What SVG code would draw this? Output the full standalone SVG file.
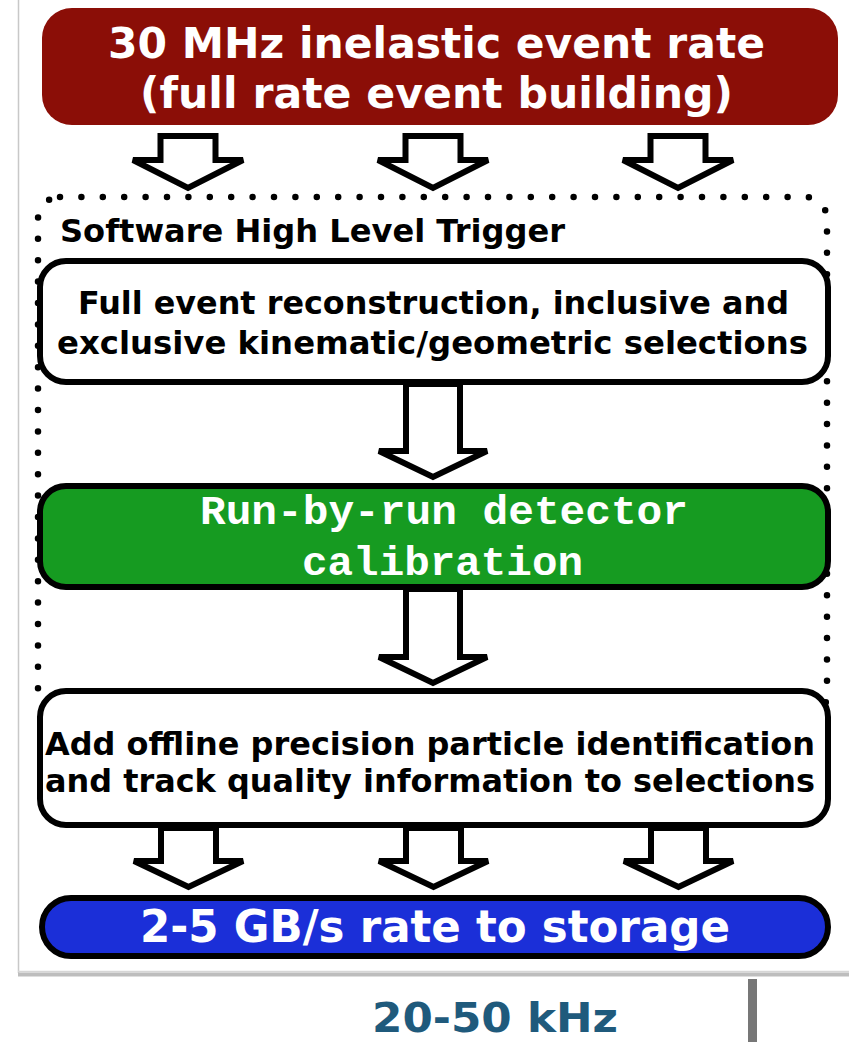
<svg xmlns="http://www.w3.org/2000/svg" width="849" height="1042" viewBox="0 0 849 1042">
<defs>
<style>
.box{stroke:#000;stroke-width:6}
.arrow{fill:#fff;stroke:#000;stroke-width:6;stroke-linejoin:miter}
.sans{font-family:"DejaVu Sans","Verdana",sans-serif;font-weight:bold}
.mono{font-family:"Liberation Mono","Courier New",monospace;font-weight:bold}
.w{fill:#fff}
.k{fill:#000}
</style>
</defs>
<rect x="0" y="0" width="849" height="1042" fill="#fff"/>
<g id="panel">
<line x1="18.5" y1="0" x2="18.5" y2="973" stroke="#c8c8c8" stroke-width="1.5"/>
<line x1="18" y1="971.5" x2="849" y2="971.5" stroke="#d6d6d6" stroke-width="1.5"/>
<line x1="18" y1="974.5" x2="849" y2="974.5" stroke="#bdbdbd" stroke-width="4"/>
</g>
<g id="hlt-group">
<rect x="38" y="197" width="789" height="520" rx="22" fill="none" stroke="#000" stroke-width="6.5" stroke-linecap="round" stroke-dasharray="0 21.4"/>
<text class="sans k" x="60" y="242" font-size="32" textLength="505" lengthAdjust="spacingAndGlyphs">Software High Level Trigger</text>
</g>
<g id="n-input">
<rect x="42" y="8" width="796" height="117" rx="30" fill="#8b0e07"/>
<text class="sans w" x="108" y="58" font-size="42" textLength="657" lengthAdjust="spacingAndGlyphs">30 MHz inelastic event rate</text>
<text class="sans w" x="140" y="108" font-size="42" textLength="593" lengthAdjust="spacingAndGlyphs">(full rate event building)</text>
</g>
<g id="n-reco">
<rect class="box" x="40" y="261" width="788" height="121" rx="26" fill="#fff"/>
<text class="sans k" x="78" y="314" font-size="32" textLength="711" lengthAdjust="spacingAndGlyphs">Full event reconstruction, inclusive and</text>
<text class="sans k" x="57" y="354" font-size="32" textLength="751" lengthAdjust="spacingAndGlyphs">exclusive kinematic/geometric selections</text>
</g>
<g id="n-calib">
<rect class="box" x="40" y="486" width="788" height="101" rx="26" fill="#169b21"/>
<text class="mono w" x="200" y="524" font-size="41" textLength="488" lengthAdjust="spacingAndGlyphs">Run-by-run detector</text>
<text class="mono w" x="302" y="575" font-size="41" textLength="281" lengthAdjust="spacingAndGlyphs">calibration</text>
</g>
<g id="n-pid">
<rect class="box" x="40" y="691" width="788" height="134" rx="26" fill="#fff"/>
<text class="sans k" x="45" y="755" font-size="32" textLength="770" lengthAdjust="spacingAndGlyphs">Add offline precision particle identification</text>
<text class="sans k" x="45" y="792" font-size="32" textLength="770" lengthAdjust="spacingAndGlyphs">and track quality information to selections</text>
</g>
<g id="n-storage">
<rect class="box" x="42" y="898" width="786" height="58" rx="29" fill="#1b2fd8"/>
<text class="sans w" x="140" y="942" font-size="44" textLength="590" lengthAdjust="spacingAndGlyphs">2-5 GB/s rate to storage</text>
</g>
<g id="connectors">
<path class="arrow" d="M160.5,136 H215.5 V160 H243 L188,188 L133,160 H160.5 Z"/>
<path class="arrow" d="M405.5,136 H460.5 V160 H488 L433,188 L378,160 H405.5 Z"/>
<path class="arrow" d="M650.5,136 H705.5 V160 H733 L678,188 L623,160 H650.5 Z"/>
<path class="arrow" d="M406,384 H460 V451 H487 L433,477 L379,451 H406 Z"/>
<path class="arrow" d="M406,589 H460 V657 H487 L433,683 L379,657 H406 Z"/>
<path class="arrow" d="M161,828 H216 V861 H243 L188.5,887 L134,861 H161 Z"/>
<path class="arrow" d="M406,828 H461 V861 H488 L433.5,887 L379,861 H406 Z"/>
<path class="arrow" d="M651,828 H706 V861 H733 L678.5,887 L624,861 H651 Z"/>
</g>
<g id="footer">
<text class="sans" x="372" y="1032" font-size="41" fill="#1f5a7c" textLength="246" lengthAdjust="spacingAndGlyphs">20-50 kHz</text>
<rect x="748" y="979" width="9" height="63" fill="#777"/>
</g>
</svg>
